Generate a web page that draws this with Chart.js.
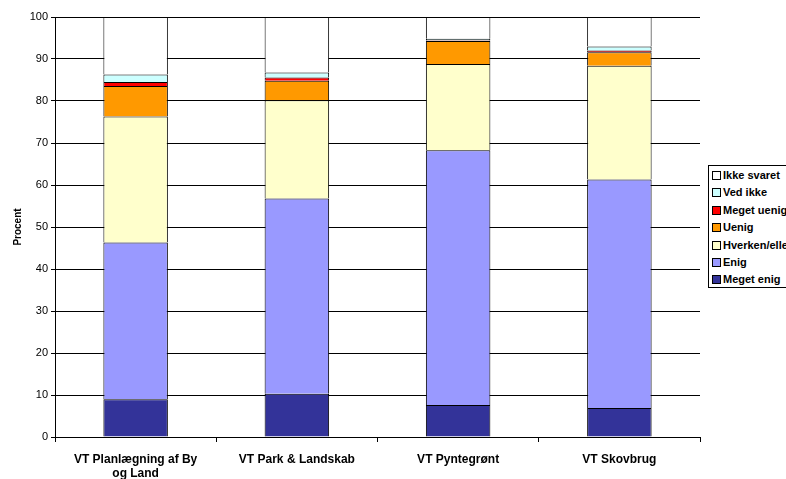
<!DOCTYPE html>
<html>
<head>
<meta charset="utf-8">
<script src="https://cdn.jsdelivr.net/npm/chart.js@4"></script>
<style>
  html, body { margin: 0; padding: 0; background: #fff; overflow: hidden; }
  #wrap { position: relative; width: 786px; height: 479px; }
  #legend {
    position: absolute; left: 708px; top: 165px; width: 90px; height: 123px;
    border: 1px solid #000; background: #fff; box-sizing: border-box;
    font: bold 11px "Liberation Sans", Arial, sans-serif; padding: 4px 0 0 3px;
  }
  #legend div { height: 17.4px; line-height: 11px; white-space: nowrap; }
  #legend span { display: inline-block; width: 7px; height: 7px; border: 1px solid #000; margin-right: 2px; vertical-align: -1px; }
</style>
</head>
<body>
<div id="wrap">
  <canvas id="chart" width="786" height="479"></canvas>
  <div id="legend"></div>
</div>
<script>
const categories = [['VT Planlægning af By', 'og Land'], 'VT Park & Landskab', 'VT Pyntegrønt', 'VT Skovbrug'];
const megetEnig = [9.0, 10.3, 7.6, 6.9];
const enig = [37.3, 46.5, 60.7, 54.4];
const hverken = [30.0, 23.4, 20.5, 27.1];
const uenig = [7.3, 4.6, 5.5, 3.2];
const megetUenig = [0.9, 0.8, 0.1, 0.4];
const vedIkke = [1.8, 1.2, 0.4, 1.0];
const ikkeSvaret = [13.7, 13.2, 5.2, 7.0];
const yTicks = [0, 10, 20, 30, 40, 50, 60, 70, 80, 90, 100];

const series = [
  { label: 'Meget enig', data: megetEnig, color: '#333399' },
  { label: 'Enig', data: enig, color: '#9999FF' },
  { label: 'Hverken/eller', data: hverken, color: '#FFFFCC' },
  { label: 'Uenig', data: uenig, color: '#FF9900' },
  { label: 'Meget uenig', data: megetUenig, color: '#FF0000' },
  { label: 'Ved ikke', data: vedIkke, color: '#CCFFFF' },
  { label: 'Ikke svaret', data: ikkeSvaret, color: '#FFFFFF' }
];

const font = "'Liberation Sans', Arial, sans-serif";

new Chart(document.getElementById('chart').getContext('2d'), {
  type: 'bar',
  data: {
    labels: categories,
    datasets: series.map(s => ({
      label: s.label,
      data: s.data,
      backgroundColor: s.color,
      borderColor: '#000',
      borderWidth: 1,
      barPercentage: 0.4,
      categoryPercentage: 1
    }))
  },
  options: {
    responsive: false,
    animation: false,
    layout: { padding: { top: 17, right: 86, left: 0, bottom: 0 } },
    plugins: { legend: { display: false }, tooltip: { enabled: false } },
    scales: {
      x: {
        stacked: true,
        grid: { drawOnChartArea: false, drawTicks: true, tickLength: 5, color: '#000', offset: true },
        border: { color: '#000' },
        ticks: { color: '#000', font: { family: font, size: 12, weight: 'bold' }, maxRotation: 0, padding: 10 },
        afterFit: axis => { axis.height = 42; }
      },
      y: {
        stacked: true,
        min: 0, max: 100,
        afterBuildTicks: axis => { axis.ticks = yTicks.map(v => ({ value: v })); },
        grid: { color: '#000', tickLength: 4 },
        border: { color: '#000' },
        ticks: { color: '#000', font: { family: font, size: 11 }, padding: 3 },
        title: { display: true, text: 'Procent', color: '#000', font: { family: font, size: 10, weight: 'bold' }, padding: { top: 12, bottom: 4 } },
        afterFit: axis => { axis.width = 55; }
      }
    }
  }
});

const legend = document.getElementById('legend');
series.slice().reverse().forEach(s => {
  const row = document.createElement('div');
  const box = document.createElement('span');
  box.style.background = s.color;
  row.appendChild(box);
  row.appendChild(document.createTextNode(s.label));
  legend.appendChild(row);
});
</script>
</body>
</html>
